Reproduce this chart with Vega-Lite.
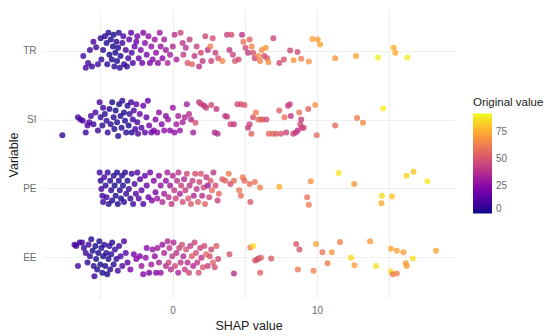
{
  "$schema": "https://vega.github.io/schema/vega-lite/v6.json",
  "autosize": {"type": "none"},
  "width": 413,
  "height": 289,
  "padding": {"left": 42, "top": 10, "right": 95, "bottom": 37},
  "background": "white",
  "config": {
    "font": "Liberation Sans",
    "view": {"stroke": null}
  },
  "data": {
    "values": [
      {"v":"TR","s":-6.18,"j":-0.07,"c":8},{"v":"TR","s":-6.01,"j":-0.24,"c":10},{"v":"TR","s":-5.85,"j":-0.17,"c":9},{"v":"TR","s":-5.72,"j":0.02,"c":8},{"v":"TR","s":-5.58,"j":-0.22,"c":6},{"v":"TR","s":-5.48,"j":0.14,"c":10},{"v":"TR","s":-5.29,"j":0.06,"c":7},{"v":"TR","s":-5.17,"j":-0.19,"c":9},{"v":"TR","s":-4.98,"j":0.19,"c":6},{"v":"TR","s":-4.93,"j":-0.12,"c":5},{"v":"TR","s":-4.81,"j":0.02,"c":4},{"v":"TR","s":-4.69,"j":0.22,"c":3},{"v":"TR","s":-4.57,"j":0.12,"c":2},{"v":"TR","s":-4.52,"j":-0.19,"c":4},{"v":"TR","s":-4.44,"j":0.27,"c":2},{"v":"TR","s":-4.37,"j":-0.05,"c":1},{"v":"TR","s":-4.28,"j":0.17,"c":2},{"v":"TR","s":-4.2,"j":-0.12,"c":3},{"v":"TR","s":-4.13,"j":0.07,"c":1},{"v":"TR","s":-4.08,"j":0.24,"c":2},{"v":"TR","s":-4.03,"j":-0.22,"c":4},{"v":"TR","s":-3.96,"j":-0.02,"c":1},{"v":"TR","s":-3.89,"j":0.14,"c":3},{"v":"TR","s":-3.84,"j":-0.14,"c":2},{"v":"TR","s":-3.77,"j":0.05,"c":2},{"v":"TR","s":-3.72,"j":0.27,"c":5},{"v":"TR","s":-3.65,"j":-0.24,"c":4},{"v":"TR","s":-3.6,"j":-0.07,"c":3},{"v":"TR","s":-3.48,"j":0.12,"c":8},{"v":"TR","s":-3.41,"j":0.22,"c":12},{"v":"TR","s":-3.36,"j":-0.19,"c":6},{"v":"TR","s":-3.24,"j":0.02,"c":10},{"v":"TR","s":-3.16,"j":-0.22,"c":5},{"v":"TR","s":-3.07,"j":-0.1,"c":9},{"v":"TR","s":-3.0,"j":0.17,"c":14},{"v":"TR","s":-2.87,"j":0.27,"c":15},{"v":"TR","s":-2.83,"j":-0.02,"c":12},{"v":"TR","s":-2.75,"j":-0.17,"c":10},{"v":"TR","s":-2.63,"j":0.07,"c":16},{"v":"TR","s":-2.51,"j":0.14,"c":18},
      {"v":"TR","s":-2.44,"j":0.22,"c":20},{"v":"TR","s":-2.34,"j":-0.1,"c":18},{"v":"TR","s":-2.2,"j":0.02,"c":22},{"v":"TR","s":-2.1,"j":-0.17,"c":19},{"v":"TR","s":-2.03,"j":0.27,"c":24},{"v":"TR","s":-1.91,"j":0.12,"c":26},{"v":"TR","s":-1.79,"j":-0.05,"c":21},{"v":"TR","s":-1.67,"j":0.22,"c":27},{"v":"TR","s":-1.57,"j":-0.17,"c":23},{"v":"TR","s":-1.47,"j":0.07,"c":28},{"v":"TR","s":-1.38,"j":-0.12,"c":25},{"v":"TR","s":-1.23,"j":0.17,"c":30},{"v":"TR","s":-1.14,"j":-0.02,"c":27},{"v":"TR","s":-1.01,"j":-0.17,"c":24},{"v":"TR","s":-0.89,"j":0.27,"c":31},{"v":"TR","s":-0.82,"j":0.07,"c":29},{"v":"TR","s":-0.7,"j":-0.1,"c":26},{"v":"TR","s":-0.58,"j":0.17,"c":33},{"v":"TR","s":-0.46,"j":0.02,"c":30},{"v":"TR","s":-0.34,"j":-0.17,"c":35},{"v":"TR","s":-0.17,"j":-0.05,"c":32},{"v":"TR","s":0.02,"j":0.07,"c":36},{"v":"TR","s":0.14,"j":0.24,"c":38},{"v":"TR","s":0.27,"j":-0.12,"c":34},
      {"v":"TR","s":0.56,"j":0.27,"c":45},{"v":"TR","s":0.7,"j":0.12,"c":40},{"v":"TR","s":0.75,"j":-0.05,"c":42},{"v":"TR","s":0.92,"j":0.05,"c":38},{"v":"TR","s":1.04,"j":-0.17,"c":50},{"v":"TR","s":1.18,"j":0.17,"c":43},{"v":"TR","s":1.35,"j":-0.19,"c":55},{"v":"TR","s":1.52,"j":-0.07,"c":41},{"v":"TR","s":1.67,"j":0.07,"c":44},{"v":"TR","s":1.84,"j":-0.22,"c":40},{"v":"TR","s":1.96,"j":-0.02,"c":47},{"v":"TR","s":2.08,"j":-0.14,"c":42},{"v":"TR","s":2.27,"j":0.22,"c":46},{"v":"TR","s":2.44,"j":0.02,"c":39},{"v":"TR","s":2.61,"j":0.07,"c":62},{"v":"TR","s":2.68,"j":-0.14,"c":45},{"v":"TR","s":2.78,"j":0.19,"c":48},{"v":"TR","s":2.97,"j":-0.02,"c":43},{"v":"TR","s":3.16,"j":-0.1,"c":50},{"v":"TR","s":3.45,"j":-0.14,"c":65},{"v":"TR","s":3.77,"j":0.24,"c":44},{"v":"TR","s":3.94,"j":0.02,"c":42},{"v":"TR","s":4.08,"j":0.24,"c":48},{"v":"TR","s":4.18,"j":-0.05,"c":45},{"v":"TR","s":4.32,"j":-0.14,"c":52},{"v":"TR","s":4.57,"j":-0.12,"c":46},{"v":"TR","s":4.81,"j":0.24,"c":40},{"v":"TR","s":4.9,"j":0.14,"c":60},{"v":"TR","s":5.05,"j":0.05,"c":48},
      {"v":"TR","s":5.22,"j":-0.02,"c":42},{"v":"TR","s":5.34,"j":0.17,"c":55},{"v":"TR","s":5.48,"j":0.07,"c":64},{"v":"TR","s":5.58,"j":-0.02,"c":50},{"v":"TR","s":5.7,"j":-0.1,"c":45},{"v":"TR","s":5.94,"j":-0.07,"c":68},{"v":"TR","s":6.06,"j":-0.14,"c":62},{"v":"TR","s":6.18,"j":0.02,"c":66},{"v":"TR","s":6.35,"j":-0.07,"c":48},{"v":"TR","s":6.45,"j":0.05,"c":70},{"v":"TR","s":6.55,"j":-0.1,"c":52},{"v":"TR","s":6.64,"j":-0.16,"c":68},{"v":"TR","s":6.98,"j":0.19,"c":45},{"v":"TR","s":7.39,"j":-0.17,"c":48},{"v":"TR","s":7.71,"j":-0.12,"c":50},{"v":"TR","s":8.14,"j":0.01,"c":46},{"v":"TR","s":8.38,"j":-0.13,"c":70},{"v":"TR","s":8.65,"j":-0.01,"c":47},{"v":"TR","s":8.91,"j":-0.11,"c":62},{"v":"TR","s":9.44,"j":-0.15,"c":68},
      {"v":"TR","s":9.69,"j":0.18,"c":72},{"v":"TR","s":10.05,"j":0.17,"c":71},{"v":"TR","s":10.22,"j":0.1,"c":73},{"v":"TR","s":11.26,"j":-0.1,"c":70},{"v":"TR","s":12.71,"j":-0.07,"c":73},{"v":"TR","s":14.23,"j":-0.09,"c":89},{"v":"TR","s":15.31,"j":0.05,"c":75},{"v":"TR","s":15.43,"j":-0.02,"c":74},{"v":"TR","s":16.26,"j":-0.09,"c":88},

      {"v":"SI","s":-7.63,"j":-0.22,"c":5},{"v":"SI","s":-6.55,"j":0.04,"c":10},{"v":"SI","s":-6.38,"j":0.01,"c":9},{"v":"SI","s":-6.21,"j":-0.01,"c":11},{"v":"SI","s":-6.01,"j":-0.18,"c":8},{"v":"SI","s":-5.89,"j":-0.08,"c":10},{"v":"SI","s":-5.77,"j":-0.03,"c":12},{"v":"SI","s":-5.65,"j":0.06,"c":9},{"v":"SI","s":-5.48,"j":-0.06,"c":7},{"v":"SI","s":-5.34,"j":0.11,"c":10},{"v":"SI","s":-5.17,"j":-0.15,"c":8},{"v":"SI","s":-5.05,"j":0.26,"c":11},{"v":"SI","s":-4.98,"j":0.04,"c":6},{"v":"SI","s":-4.86,"j":-0.08,"c":5},{"v":"SI","s":-4.81,"j":0.18,"c":9},{"v":"SI","s":-4.69,"j":0.09,"c":4},{"v":"SI","s":-4.57,"j":-0.01,"c":6},{"v":"SI","s":-4.49,"j":-0.18,"c":7},{"v":"SI","s":-4.37,"j":0.16,"c":3},{"v":"SI","s":-4.28,"j":-0.06,"c":5},{"v":"SI","s":-4.18,"j":0.26,"c":2},{"v":"SI","s":-4.08,"j":0.04,"c":3},{"v":"SI","s":-4.03,"j":-0.13,"c":2},{"v":"SI","s":-3.94,"j":0.14,"c":1},{"v":"SI","s":-3.84,"j":-0.03,"c":2},{"v":"SI","s":-3.77,"j":-0.23,"c":4},{"v":"SI","s":-3.7,"j":0.23,"c":1},{"v":"SI","s":-3.6,"j":0.06,"c":2},{"v":"SI","s":-3.53,"j":-0.11,"c":3},{"v":"SI","s":-3.48,"j":0.28,"c":5},{"v":"SI","s":-3.36,"j":0.11,"c":1},{"v":"SI","s":-3.29,"j":-0.01,"c":2},{"v":"SI","s":-3.21,"j":-0.18,"c":4},{"v":"SI","s":-3.12,"j":0.21,"c":3},{"v":"SI","s":-3.04,"j":-0.08,"c":1},{"v":"SI","s":-2.97,"j":0.09,"c":6},{"v":"SI","s":-2.87,"j":0.26,"c":8},{"v":"SI","s":-2.83,"j":-0.18,"c":3},{"v":"SI","s":-2.75,"j":0.01,"c":7},{"v":"SI","s":-2.68,"j":0.14,"c":12},{"v":"SI","s":-2.58,"j":-0.13,"c":9},{"v":"SI","s":-2.51,"j":0.23,"c":14},{"v":"SI","s":-2.44,"j":-0.03,"c":10},{"v":"SI","s":-2.39,"j":-0.2,"c":13},{"v":"SI","s":-2.27,"j":0.09,"c":16},{"v":"SI","s":-2.15,"j":-0.11,"c":12},{"v":"SI","s":-2.03,"j":0.21,"c":18},{"v":"SI","s":-1.91,"j":-0.18,"c":15},{"v":"SI","s":-1.81,"j":0.04,"c":14},{"v":"SI","s":-1.71,"j":0.28,"c":17},{"v":"SI","s":-1.62,"j":-0.08,"c":20},{"v":"SI","s":-1.47,"j":-0.18,"c":18},
      {"v":"SI","s":-1.3,"j":-0.15,"c":22},{"v":"SI","s":-1.18,"j":0.01,"c":24},{"v":"SI","s":-1.06,"j":-0.18,"c":25},{"v":"SI","s":-0.94,"j":0.11,"c":27},{"v":"SI","s":-0.75,"j":-0.06,"c":23},{"v":"SI","s":-0.58,"j":-0.15,"c":28},{"v":"SI","s":-0.46,"j":0.06,"c":26},{"v":"SI","s":-0.31,"j":0.01,"c":30},{"v":"SI","s":-0.17,"j":-0.15,"c":25},{"v":"SI","s":0.02,"j":0.18,"c":29},{"v":"SI","s":0.14,"j":-0.18,"c":27},{"v":"SI","s":0.27,"j":-0.06,"c":31},{"v":"SI","s":0.39,"j":0.06,"c":33},{"v":"SI","s":0.51,"j":-0.15,"c":30},{"v":"SI","s":0.7,"j":-0.03,"c":34},{"v":"SI","s":0.85,"j":0.04,"c":36},{"v":"SI","s":0.99,"j":0.23,"c":32},{"v":"SI","s":1.14,"j":0.09,"c":38},{"v":"SI","s":1.28,"j":0.01,"c":35},{"v":"SI","s":1.43,"j":-0.18,"c":33},
      {"v":"SI","s":1.59,"j":-0.04,"c":50},{"v":"SI","s":1.84,"j":0.26,"c":42},{"v":"SI","s":2.0,"j":0.23,"c":45},{"v":"SI","s":2.2,"j":0.21,"c":40},{"v":"SI","s":2.32,"j":0.18,"c":43},{"v":"SI","s":2.68,"j":0.22,"c":47},{"v":"SI","s":2.92,"j":-0.18,"c":36},{"v":"SI","s":3.04,"j":0.16,"c":40},{"v":"SI","s":3.12,"j":-0.2,"c":38},{"v":"SI","s":3.65,"j":0.06,"c":42},{"v":"SI","s":3.77,"j":0.05,"c":44},{"v":"SI","s":4.01,"j":-0.06,"c":45},{"v":"SI","s":4.25,"j":-0.06,"c":41},{"v":"SI","s":4.49,"j":0.23,"c":48},{"v":"SI","s":4.73,"j":0.23,"c":46},{"v":"SI","s":4.98,"j":0.22,"c":52},{"v":"SI","s":5.22,"j":-0.11,"c":42},{"v":"SI","s":5.34,"j":-0.06,"c":45},{"v":"SI","s":5.46,"j":-0.2,"c":55},{"v":"SI","s":5.58,"j":0.04,"c":50},{"v":"SI","s":5.77,"j":0.11,"c":62},{"v":"SI","s":5.94,"j":0.01,"c":58},{"v":"SI","s":6.11,"j":0.01,"c":56},{"v":"SI","s":6.26,"j":0.01,"c":54},{"v":"SI","s":6.5,"j":0.01,"c":48},{"v":"SI","s":6.67,"j":-0.2,"c":55},{"v":"SI","s":6.93,"j":-0.2,"c":58},{"v":"SI","s":7.17,"j":-0.2,"c":52},{"v":"SI","s":7.39,"j":0.14,"c":54},{"v":"SI","s":7.51,"j":-0.2,"c":50},{"v":"SI","s":7.75,"j":0.04,"c":58},{"v":"SI","s":7.87,"j":-0.18,"c":45},{"v":"SI","s":8.0,"j":0.21,"c":42},{"v":"SI","s":8.12,"j":0.23,"c":44},{"v":"SI","s":8.19,"j":0.06,"c":40},{"v":"SI","s":8.36,"j":-0.2,"c":46},{"v":"SI","s":8.53,"j":-0.18,"c":42},{"v":"SI","s":8.67,"j":-0.15,"c":40},{"v":"SI","s":8.77,"j":0.11,"c":60},{"v":"SI","s":8.84,"j":-0.06,"c":48},{"v":"SI","s":8.91,"j":0.01,"c":44},{"v":"SI","s":8.96,"j":-0.11,"c":42},{"v":"SI","s":9.08,"j":-0.11,"c":46},{"v":"SI","s":9.4,"j":0.16,"c":55},{"v":"SI","s":9.88,"j":0.22,"c":68},{"v":"SI","s":9.98,"j":-0.22,"c":57},
      {"v":"SI","s":11.26,"j":-0.08,"c":57},{"v":"SI","s":12.78,"j":0.03,"c":62},{"v":"SI","s":13.19,"j":-0.04,"c":66},{"v":"SI","s":14.59,"j":0.17,"c":89},

      {"v":"PE","s":-5.05,"j":0.24,"c":8},{"v":"PE","s":-4.98,"j":0.12,"c":6},{"v":"PE","s":-4.93,"j":0,"c":10},{"v":"PE","s":-4.86,"j":-0.1,"c":9},{"v":"PE","s":-4.81,"j":-0.19,"c":7},{"v":"PE","s":-4.73,"j":0.17,"c":11},{"v":"PE","s":-4.64,"j":0.05,"c":5},{"v":"PE","s":-4.57,"j":-0.12,"c":8},{"v":"PE","s":-4.49,"j":0.24,"c":6},{"v":"PE","s":-4.42,"j":-0.22,"c":4},{"v":"PE","s":-4.32,"j":0.12,"c":3},{"v":"PE","s":-4.25,"j":-0.02,"c":5},{"v":"PE","s":-4.18,"j":-0.17,"c":2},{"v":"PE","s":-4.08,"j":0.19,"c":4},{"v":"PE","s":-4.01,"j":0.05,"c":1},{"v":"PE","s":-3.94,"j":-0.1,"c":3},{"v":"PE","s":-3.84,"j":0.24,"c":2},{"v":"PE","s":-3.79,"j":-0.22,"c":1},{"v":"PE","s":-3.72,"j":0.12,"c":2},{"v":"PE","s":-3.65,"j":-0.02,"c":4},{"v":"PE","s":-3.57,"j":-0.14,"c":1},{"v":"PE","s":-3.5,"j":0.19,"c":3},{"v":"PE","s":-3.43,"j":0.05,"c":2},{"v":"PE","s":-3.36,"j":-0.19,"c":5},{"v":"PE","s":-3.29,"j":0.24,"c":4},{"v":"PE","s":-3.21,"j":-0.07,"c":6},{"v":"PE","s":-3.12,"j":0.12,"c":3},{"v":"PE","s":-3.02,"j":0,"c":7},{"v":"PE","s":-2.92,"j":-0.14,"c":5},{"v":"PE","s":-2.83,"j":0.22,"c":9},{"v":"PE","s":-2.73,"j":-0.22,"c":8},{"v":"PE","s":-2.63,"j":0.07,"c":10},{"v":"PE","s":-2.54,"j":-0.07,"c":12},{"v":"PE","s":-2.44,"j":0.24,"c":11},{"v":"PE","s":-2.34,"j":-0.14,"c":14},{"v":"PE","s":-2.25,"j":0.14,"c":13},{"v":"PE","s":-2.15,"j":-0.02,"c":15},{"v":"PE","s":-2.03,"j":-0.22,"c":12},{"v":"PE","s":-1.91,"j":0.19,"c":16},{"v":"PE","s":-1.79,"j":0.05,"c":18},{"v":"PE","s":-1.67,"j":-0.12,"c":17},
      {"v":"PE","s":-1.55,"j":0.24,"c":20},{"v":"PE","s":-1.43,"j":-0.17,"c":22},{"v":"PE","s":-1.3,"j":0.12,"c":24},{"v":"PE","s":-1.18,"j":-0.05,"c":21},{"v":"PE","s":-1.06,"j":-0.14,"c":30},{"v":"PE","s":-0.94,"j":0.19,"c":26},{"v":"PE","s":-0.82,"j":0.05,"c":28},{"v":"PE","s":-0.7,"j":-0.19,"c":35},{"v":"PE","s":-0.58,"j":-0.07,"c":32},{"v":"PE","s":-0.46,"j":0.12,"c":27},{"v":"PE","s":-0.36,"j":0.24,"c":33},{"v":"PE","s":-0.27,"j":-0.12,"c":38},{"v":"PE","s":-0.17,"j":0.05,"c":30},{"v":"PE","s":-0.07,"j":-0.22,"c":40},{"v":"PE","s":0.02,"j":0.19,"c":35},{"v":"PE","s":0.12,"j":-0.02,"c":42},{"v":"PE","s":0.22,"j":-0.14,"c":45},{"v":"PE","s":0.31,"j":0.12,"c":38},{"v":"PE","s":0.41,"j":0.24,"c":40},{"v":"PE","s":0.51,"j":-0.07,"c":33},{"v":"PE","s":0.6,"j":0.05,"c":44},{"v":"PE","s":0.7,"j":-0.19,"c":48},{"v":"PE","s":0.8,"j":0.14,"c":36},{"v":"PE","s":0.89,"j":-0.02,"c":42},{"v":"PE","s":0.99,"j":0.22,"c":46},{"v":"PE","s":1.09,"j":-0.14,"c":50},{"v":"PE","s":1.18,"j":0.05,"c":39},{"v":"PE","s":1.28,"j":-0.22,"c":52},{"v":"PE","s":1.38,"j":0.12,"c":44},{"v":"PE","s":1.47,"j":-0.1,"c":35},{"v":"PE","s":1.57,"j":0.22,"c":48},{"v":"PE","s":1.67,"j":0,"c":40},{"v":"PE","s":1.76,"j":-0.19,"c":54},{"v":"PE","s":1.86,"j":0.1,"c":45},{"v":"PE","s":1.96,"j":0.22,"c":50},{"v":"PE","s":2.05,"j":-0.1,"c":38},{"v":"PE","s":2.15,"j":0.02,"c":47},{"v":"PE","s":2.25,"j":-0.22,"c":55},{"v":"PE","s":2.34,"j":0.17,"c":42},{"v":"PE","s":2.44,"j":0.05,"c":30},{"v":"PE","s":2.54,"j":-0.12,"c":46},{"v":"PE","s":2.63,"j":0.12,"c":52},{"v":"PE","s":2.73,"j":-0.02,"c":58},{"v":"PE","s":2.83,"j":0.24,"c":40},{"v":"PE","s":2.97,"j":0.05,"c":48},{"v":"PE","s":3.12,"j":-0.17,"c":44},{"v":"PE","s":3.21,"j":-0.07,"c":56},
      {"v":"PE","s":3.45,"j":0.14,"c":52},{"v":"PE","s":3.65,"j":0.12,"c":55},{"v":"PE","s":3.89,"j":0.22,"c":62},{"v":"PE","s":4.01,"j":0.07,"c":48},{"v":"PE","s":4.25,"j":0.12,"c":58},{"v":"PE","s":4.61,"j":-0.02,"c":60},{"v":"PE","s":4.73,"j":-0.1,"c":58},{"v":"PE","s":4.86,"j":0.17,"c":62},{"v":"PE","s":4.98,"j":0.12,"c":56},{"v":"PE","s":5.34,"j":0.07,"c":58},{"v":"PE","s":5.39,"j":-0.19,"c":52},{"v":"PE","s":5.7,"j":0.1,"c":60},{"v":"PE","s":6.06,"j":0.02,"c":64},
      {"v":"PE","s":7.39,"j":0.03,"c":76},{"v":"PE","s":9.57,"j":0.11,"c":68},{"v":"PE","s":9.32,"j":-0.12,"c":60},{"v":"PE","s":9.44,"j":-0.23,"c":62},{"v":"PE","s":11.5,"j":0.23,"c":88},{"v":"PE","s":12.58,"j":0.07,"c":70},{"v":"PE","s":14.5,"j":-0.1,"c":85},{"v":"PE","s":14.47,"j":-0.21,"c":74},{"v":"PE","s":15.19,"j":-0.11,"c":80},{"v":"PE","s":16.21,"j":0.19,"c":84},{"v":"PE","s":16.69,"j":0.25,"c":80},{"v":"PE","s":17.65,"j":0.11,"c":88},

      {"v":"EE","s":-6.79,"j":0.19,"c":8},{"v":"EE","s":-6.67,"j":0.17,"c":10},{"v":"EE","s":-6.55,"j":-0.12,"c":9},{"v":"EE","s":-6.43,"j":0.22,"c":7},{"v":"EE","s":-6.26,"j":0.22,"c":11},{"v":"EE","s":-6.14,"j":0.14,"c":6},{"v":"EE","s":-6.01,"j":0.07,"c":8},{"v":"EE","s":-5.89,"j":-0.07,"c":5},{"v":"EE","s":-5.82,"j":0.19,"c":9},{"v":"EE","s":-5.72,"j":0.02,"c":4},{"v":"EE","s":-5.63,"j":0.27,"c":3},{"v":"EE","s":-5.53,"j":0.1,"c":2},{"v":"EE","s":-5.46,"j":-0.12,"c":4},{"v":"EE","s":-5.41,"j":-0.27,"c":7},{"v":"EE","s":-5.34,"j":0.17,"c":1},{"v":"EE","s":-5.29,"j":-0.02,"c":2},{"v":"EE","s":-5.22,"j":-0.17,"c":3},{"v":"EE","s":-5.14,"j":0.07,"c":1},{"v":"EE","s":-5.07,"j":0.24,"c":2},{"v":"EE","s":-5.0,"j":-0.1,"c":1},{"v":"EE","s":-4.93,"j":0.14,"c":3},{"v":"EE","s":-4.86,"j":-0.22,"c":2},{"v":"EE","s":-4.81,"j":0.02,"c":1},{"v":"EE","s":-4.73,"j":0.19,"c":4},{"v":"EE","s":-4.66,"j":-0.12,"c":2},{"v":"EE","s":-4.59,"j":0.07,"c":3},{"v":"EE","s":-4.52,"j":-0.24,"c":1},{"v":"EE","s":-4.44,"j":-0.02,"c":2},{"v":"EE","s":-4.37,"j":0.17,"c":5},{"v":"EE","s":-4.32,"j":-0.17,"c":3},{"v":"EE","s":-4.25,"j":0.05,"c":4},{"v":"EE","s":-4.18,"j":0.22,"c":6},{"v":"EE","s":-4.08,"j":-0.1,"c":5},{"v":"EE","s":-3.99,"j":0.12,"c":7},{"v":"EE","s":-3.89,"j":-0.02,"c":6},{"v":"EE","s":-3.79,"j":-0.19,"c":9},{"v":"EE","s":-3.7,"j":0.17,"c":8},{"v":"EE","s":-3.6,"j":0.02,"c":10},{"v":"EE","s":-3.48,"j":-0.12,"c":12},{"v":"EE","s":-3.36,"j":0.24,"c":11},{"v":"EE","s":-3.24,"j":0.07,"c":13},{"v":"EE","s":-3.12,"j":-0.07,"c":14},
      {"v":"EE","s":-2.92,"j":-0.17,"c":22},{"v":"EE","s":-2.68,"j":0.05,"c":20},{"v":"EE","s":-2.51,"j":-0.02,"c":24},{"v":"EE","s":-2.27,"j":0.02,"c":22},{"v":"EE","s":-2.15,"j":-0.12,"c":30},{"v":"EE","s":-2.03,"j":-0.24,"c":25},{"v":"EE","s":-1.86,"j":0,"c":28},{"v":"EE","s":-1.79,"j":0.14,"c":26},{"v":"EE","s":-1.62,"j":-0.22,"c":20},{"v":"EE","s":-1.47,"j":-0.1,"c":32},{"v":"EE","s":-1.38,"j":0.12,"c":29},{"v":"EE","s":-1.23,"j":0.02,"c":27},{"v":"EE","s":-1.14,"j":-0.22,"c":24},{"v":"EE","s":-1.04,"j":0.14,"c":31},{"v":"EE","s":-0.94,"j":-0.07,"c":33},{"v":"EE","s":-0.82,"j":-0.22,"c":28},{"v":"EE","s":-0.7,"j":0.19,"c":30},{"v":"EE","s":-0.58,"j":0.07,"c":34},{"v":"EE","s":-0.46,"j":-0.12,"c":36},
      {"v":"EE","s":-0.34,"j":0.24,"c":35},{"v":"EE","s":-0.27,"j":-0.07,"c":45},{"v":"EE","s":-0.22,"j":0.14,"c":40},{"v":"EE","s":-0.12,"j":-0.17,"c":38},{"v":"EE","s":-0.02,"j":0.02,"c":42},{"v":"EE","s":0.07,"j":0.22,"c":36},{"v":"EE","s":0.17,"j":-0.12,"c":46},{"v":"EE","s":0.27,"j":0.07,"c":39},{"v":"EE","s":0.39,"j":-0.22,"c":34},{"v":"EE","s":0.46,"j":0.14,"c":44},{"v":"EE","s":0.56,"j":-0.07,"c":40},{"v":"EE","s":0.65,"j":0.19,"c":48},{"v":"EE","s":0.75,"j":0.02,"c":37},{"v":"EE","s":0.85,"j":-0.17,"c":43},{"v":"EE","s":0.94,"j":0.12,"c":50},{"v":"EE","s":1.04,"j":-0.07,"c":38},{"v":"EE","s":1.14,"j":-0.22,"c":46},{"v":"EE","s":1.23,"j":0.17,"c":41},{"v":"EE","s":1.33,"j":0.02,"c":52},{"v":"EE","s":1.43,"j":-0.12,"c":36},{"v":"EE","s":1.52,"j":0.22,"c":45},{"v":"EE","s":1.62,"j":0.07,"c":48},{"v":"EE","s":1.71,"j":-0.07,"c":42},{"v":"EE","s":1.81,"j":-0.22,"c":50},{"v":"EE","s":1.91,"j":0.14,"c":44},{"v":"EE","s":2.0,"j":0,"c":40},{"v":"EE","s":2.1,"j":-0.14,"c":52},{"v":"EE","s":2.2,"j":0.17,"c":47},{"v":"EE","s":2.32,"j":0.05,"c":55},{"v":"EE","s":2.44,"j":-0.12,"c":43},{"v":"EE","s":2.58,"j":0.02,"c":50},{"v":"EE","s":2.68,"j":0.12,"c":46},{"v":"EE","s":2.8,"j":-0.07,"c":54},{"v":"EE","s":2.92,"j":-0.14,"c":48},{"v":"EE","s":3.04,"j":0.17,"c":52},{"v":"EE","s":3.16,"j":-0.02,"c":45},
      {"v":"EE","s":3.94,"j":0.05,"c":50},{"v":"EE","s":4.25,"j":-0.23,"c":38},{"v":"EE","s":5.39,"j":0.15,"c":62},{"v":"EE","s":5.6,"j":0.17,"c":86},{"v":"EE","s":5.72,"j":-0.04,"c":52},{"v":"EE","s":5.84,"j":-0.03,"c":50},{"v":"EE","s":5.95,"j":-0.01,"c":48},{"v":"EE","s":6.12,"j":0,"c":55},{"v":"EE","s":6.07,"j":-0.22,"c":54},{"v":"EE","s":6.83,"j":-0.01,"c":52},
      {"v":"EE","s":8.56,"j":0.2,"c":52},{"v":"EE","s":8.79,"j":0.12,"c":50},{"v":"EE","s":8.68,"j":-0.17,"c":62},{"v":"EE","s":9.76,"j":-0.19,"c":64},{"v":"EE","s":9.94,"j":0.2,"c":72},{"v":"EE","s":10.38,"j":0.08,"c":60},{"v":"EE","s":10.73,"j":-0.08,"c":62},{"v":"EE","s":11.03,"j":0.08,"c":70},{"v":"EE","s":11.6,"j":0.23,"c":63},{"v":"EE","s":12.37,"j":0,"c":85},{"v":"EE","s":12.6,"j":-0.11,"c":72},{"v":"EE","s":13.68,"j":0.24,"c":70},{"v":"EE","s":14.1,"j":-0.12,"c":86},{"v":"EE","s":15.13,"j":0.13,"c":74},{"v":"EE","s":15.11,"j":-0.2,"c":86},{"v":"EE","s":15.25,"j":-0.24,"c":62},{"v":"EE","s":15.53,"j":-0.23,"c":64},{"v":"EE","s":15.53,"j":0.1,"c":72},{"v":"EE","s":15.99,"j":0.08,"c":72},{"v":"EE","s":16.15,"j":-0.08,"c":70},{"v":"EE","s":16.22,"j":-0.12,"c":72},{"v":"EE","s":16.64,"j":-0.01,"c":86},{"v":"EE","s":18.25,"j":0.1,"c":72}
    ]
  },
  "mark": {"type": "circle", "size": 36, "fillOpacity": 0.8, "stroke": null},
  "encoding": {
    "x": {
      "field": "s", "type": "quantitative",
      "scale": {"domain": [-9.04, 19.56], "nice": false, "zero": false},
      "axis": {
        "title": "SHAP value",
        "values": [-5, 0, 5, 10, 15],
        "labelExpr": "datum.value % 10 == 0 ? datum.label : ''",
        "domain": false, "ticks": false,
        "grid": true, "gridColor": "#EFEFEF", "gridWidth": 1,
        "labelColor": "#6b6b6b", "labelFontSize": 10, "labelPadding": 6,
        "titleColor": "#1a1a1a", "titleFontSize": 12.5, "titleFontWeight": "normal", "titlePadding": 4
      }
    },
    "y": {
      "field": "v", "type": "nominal",
      "sort": ["TR", "SI", "PE", "EE"],
      "scale": {"paddingInner": 0, "paddingOuter": 0.1},
      "axis": {
        "title": "Variable",
        "bandPosition": 0.5,
        "domain": false, "ticks": false,
        "grid": true, "gridColor": "#EFEFEF", "gridWidth": 1,
        "labelColor": "#6b6b6b", "labelFontSize": 10, "labelPadding": 6,
        "titleColor": "#1a1a1a", "titleFontSize": 12.5, "titleFontWeight": "normal",
        "titleX": -29, "titleBaseline": "middle"
      }
    },
    "yOffset": {
      "field": "j", "type": "quantitative",
      "scale": {"domain": [0.5, -0.5]}
    },
    "color": {
      "field": "c", "type": "quantitative",
      "scale": {"scheme": "plasma", "domain": [0, 91.5]},
      "legend": {
        "title": "Original value",
        "orient": "none",
        "legendX": 431,
        "legendY": 87,
        "values": [0, 25, 50, 75],
        "gradientLength": 100,
        "gradientThickness": 19,
        "gradientStrokeWidth": 0,
        "titleFontSize": 11.5, "titleFontWeight": "normal", "titleColor": "#1a1a1a", "titlePadding": 5,
        "labelFontSize": 10, "labelColor": "#6b6b6b", "labelOffset": 4,
        "encode": {"gradient": {"update": {"opacity": {"value": 1}, "fillOpacity": {"value": 1}}}}
      }
    }
  }
}
